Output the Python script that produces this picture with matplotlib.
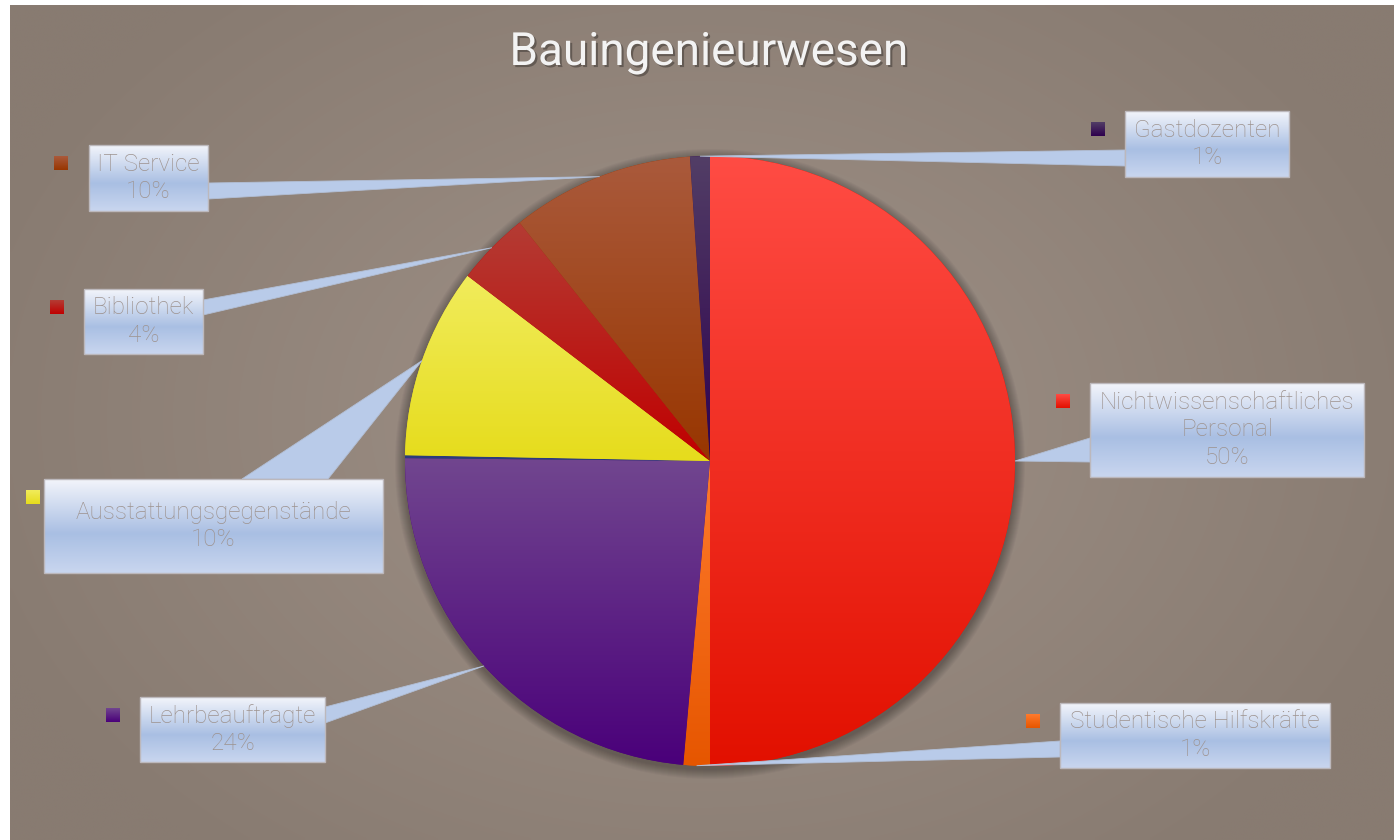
import numpy as np
import matplotlib
matplotlib.use("Agg")
import matplotlib.pyplot as plt
import matplotlib.patheffects as pe
from matplotlib.patches import Rectangle, Polygon, Circle
from matplotlib.colors import LinearSegmentedColormap

plt.rcParams['font.family'] = ['Roboto', 'DejaVu Sans']

W, H = 1394, 840

title = "Bauingenieurwesen"
categories = ["Nichtwissenschaftliches\nPersonal", "Studentische Hilfskräfte", "Lehrbeauftragte", "",
              "Ausstattungsgegenstände", "Bibliothek", "IT Service", "Gastdozenten"]
values = [50.1, 1.4, 23.8, 0.15, 10.1, 3.9, 9.7, 1.05]
top_colors = ["#ff4c44", "#ff7a2c", "#71468f", "#2c3c7c", "#f1ec5c", "#b43c34", "#aa5a3c", "#523e66"]
bottom_colors = ["#e21000", "#e65600", "#4a007a", "#2c3c7c", "#e6dc1c", "#c00000", "#983600", "#2e004e"]

# callout layout in pixel coords: box (x0, y0, x1, y1), leader base points, key square (x, y)
boxes = [(1090, 383, 1364, 477), (1060, 703, 1330, 768), (140, 697, 325, 762), None,
         (44, 479, 383, 573), (84, 289, 203, 354), (89, 145, 208, 211), (1125, 111, 1289, 177)]
bases = [((1090, 438), (1090, 462)), ((1060, 741), (1060, 757)), ((325, 707), (325, 723)), None,
         ((242, 479), (328, 479)), ((203, 300), (203, 315)), ((208, 183), (208, 199)),
         ((1125, 150), (1125, 166))]
keys = [(1056, 394), (1026, 714), (106, 708), None, (26, 490), (50, 300), (54, 156), (1091, 122)]

CX, CY, R = 710, H - 461, 305


def vgrad(ax, x0, x1, y0, y1, stops, zorder, clip=None):
    cmap = LinearSegmentedColormap.from_list("g", stops)
    img = ax.imshow(np.linspace(0, 1, 256).reshape(-1, 1), cmap=cmap, extent=(x0, x1, y0, y1),
                    origin="upper", aspect="auto", zorder=zorder, interpolation="bilinear")
    if clip is not None:
        img.set_clip_path(clip)
    return img


fig = plt.figure(figsize=(W / 100, H / 100), dpi=100, facecolor="white")
ax = fig.add_axes([0, 0, 1, 1])
ax.axis("off")

# radial background
yy, xx = np.mgrid[0:200, 0:330]
px = 10 + xx / 329 * (W - 10)
py = 5 + yy / 199 * (H - 5)
d = np.sqrt(((px - 700) / 760) ** 2 + ((py - 420) / 560) ** 2)
d = np.clip(d, 0, 1)
c_in = np.array([160, 146, 136]) / 255
c_out = np.array([136, 123, 113]) / 255
bg = c_in[None, None, :] * (1 - d[..., None]) + c_out[None, None, :] * d[..., None]
ax.imshow(bg, extent=(10, W, 0, H - 5), origin="upper", aspect="auto", zorder=0, interpolation="bilinear")

# pie shadow
for k in range(1, 11):
    ax.add_patch(Circle((CX, CY - 3), R + k, color="black", alpha=0.03, lw=0, zorder=1))

wedges, _ = ax.pie(values, colors=bottom_colors, startangle=90, counterclock=False, radius=R,
                   center=(CX, CY), wedgeprops=dict(linewidth=0, zorder=3))
total = sum(values)

for i, w in enumerate(wedges):
    w.set_zorder(3)
    ext = w.get_path().get_extents()
    vgrad(ax, ext.x0, ext.x1, ext.y0, ext.y1, [top_colors[i], bottom_colors[i]], 4, clip=w)

    if boxes[i] is None:
        continue
    mid = np.deg2rad((w.theta1 + w.theta2) / 2)
    anchor = (CX + R * np.cos(mid), CY + R * np.sin(mid))
    (bx0, by0), (bx1, by1) = bases[i]
    ax.add_patch(Polygon([anchor, (bx0, H - by0), (bx1, H - by1)], closed=True,
                         facecolor="#b9cbe9", edgecolor="#b2bfd6", lw=0.6, zorder=5))

    x0, y0, x1, y1 = boxes[i]
    vgrad(ax, x0, x1, H - y1, H - y0, [(0, "#f3f5fb"), (0.58, "#a9bfe3"), (1, "#c9d6ef")], 6)
    ax.add_patch(Rectangle((x0, H - y1), x1 - x0, y1 - y0, fill=False, edgecolor="#bcb8bc", lw=1, zorder=7))
    pct = round(values[i] / total * 100)
    ax.text((x0 + x1) / 2, H - (y0 + y1) / 2, f"{categories[i]}\n{pct}%", ha="center", va="center",
            fontsize=17.5, color="#9d928e", fontweight="light", linespacing=1.25, zorder=8)

    sx, sy = keys[i]
    vgrad(ax, sx, sx + 14, H - sy - 14, H - sy, [top_colors[i], bottom_colors[i]], 6)

ax.text(709, H - 52, title, ha="center", va="center", fontsize=33, color="#f3f3f3",
        path_effects=[pe.withSimplePatchShadow(offset=(1.5, -1.5), shadow_rgbFace="black", alpha=0.3)],
        zorder=9)

ax.set_xlim(0, W)
ax.set_ylim(0, H)
ax.set_aspect("auto")

fig.savefig("out.png", dpi=100, facecolor="white")
